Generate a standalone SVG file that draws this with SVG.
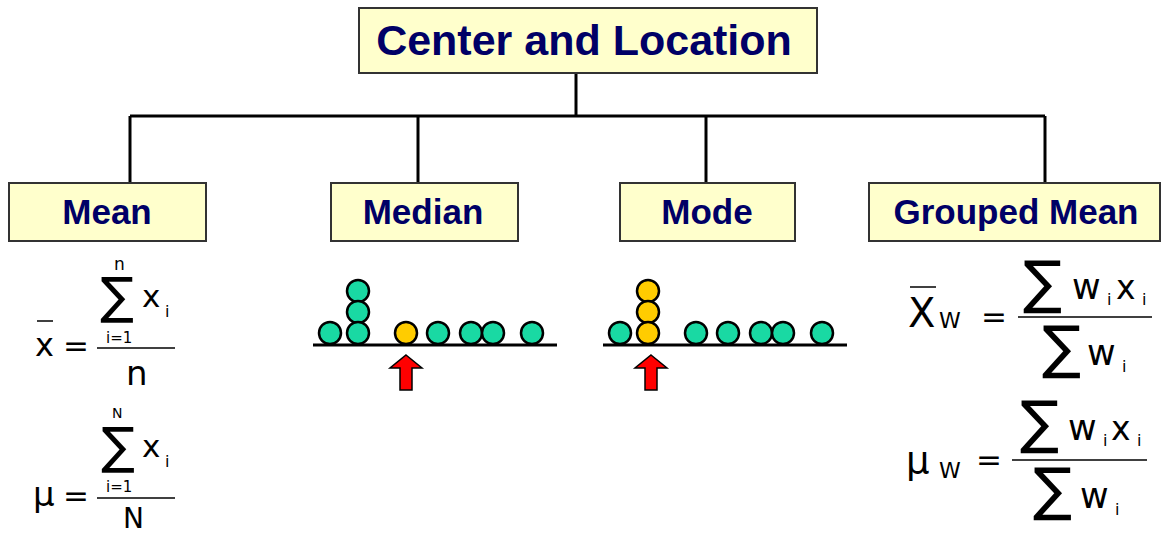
<svg xmlns="http://www.w3.org/2000/svg" width="1162" height="536" viewBox="0 0 1162 536">
  <style>
    .box { fill: #FFFFCC; stroke: #333333; stroke-width: 2; }
    .title { font-family: "Liberation Sans", Arial, sans-serif; font-weight: bold; fill: #000066; text-anchor: middle; }
    .link { fill: none; stroke: #000000; stroke-width: 3; }
    .math { font-family: "DejaVu Sans", Verdana, sans-serif; fill: #000000; }
    .axis { stroke: #000000; stroke-width: 3; }
    .dot-g { fill: #19D9A3; stroke: #000000; stroke-width: 2.5; }
    .dot-y { fill: #FFCC00; stroke: #000000; stroke-width: 2.5; }
    .arrow { fill: #FF0000; stroke: #000000; stroke-width: 1.5; }
    .bar { stroke: #000000; stroke-width: 1.5; }
  </style>

  <!-- tree connectors -->
  <g id="connectors">
    <path class="link" d="M576 73 V116"/>
    <path class="link" d="M130 116 H1045"/>
    <path class="link" d="M130 116 V183"/>
    <path class="link" d="M418 116 V183"/>
    <path class="link" d="M706 116 V183"/>
    <path class="link" d="M1045 116 V183"/>
  </g>

  <!-- root -->
  <g id="node-center">
    <rect class="box" x="359" y="8" width="458" height="65"/>
    <text class="title" x="584" y="55" font-size="43">Center and Location</text>
  </g>

  <!-- Mean -->
  <g id="node-mean">
    <rect class="box" x="9" y="183" width="197" height="58"/>
    <text class="title" x="107" y="224" font-size="35">Mean</text>
    <g class="math">
      <!-- sample mean -->
      <line class="bar" x1="37" y1="321" x2="53" y2="321"/>
      <text x="35" y="356" font-size="32">x</text>
      <text x="63" y="356" font-size="31">=</text>
      <text x="114" y="270" font-size="17">n</text>
      <text x="100" y="313" font-size="50">∑</text>
      <text x="142" y="307" font-size="31">x</text>
      <text x="165" y="317" font-size="16">i</text>
      <text x="106" y="343" font-size="15">i=1</text>
      <line class="bar" x1="97" y1="348" x2="175" y2="348"/>
      <text x="126" y="385" font-size="34">n</text>
      <!-- population mean -->
      <text x="33" y="506" font-size="34">μ</text>
      <text x="63" y="506" font-size="31">=</text>
      <text x="112" y="418" font-size="14">N</text>
      <text x="101" y="463" font-size="50">∑</text>
      <text x="142" y="457" font-size="31">x</text>
      <text x="165" y="467" font-size="16">i</text>
      <text x="106" y="492" font-size="15">i=1</text>
      <line class="bar" x1="97" y1="498" x2="175" y2="498"/>
      <text x="123" y="528" font-size="28">N</text>
    </g>
  </g>

  <!-- Median -->
  <g id="node-median">
    <rect class="box" x="331" y="183" width="187" height="58"/>
    <text class="title" x="423" y="224" font-size="35">Median</text>
    <line class="axis" x1="313" y1="345" x2="557" y2="345"/>
    <circle class="dot-g" cx="330" cy="333" r="11"/>
    <circle class="dot-g" cx="358" cy="291" r="11"/>
    <circle class="dot-g" cx="358" cy="312" r="11"/>
    <circle class="dot-g" cx="358" cy="333" r="11"/>
    <circle class="dot-y" cx="406" cy="333" r="11"/>
    <circle class="dot-g" cx="438" cy="333" r="11"/>
    <circle class="dot-g" cx="471" cy="333" r="11"/>
    <circle class="dot-g" cx="493" cy="333" r="11"/>
    <circle class="dot-g" cx="532" cy="333" r="11"/>
    <polygon class="arrow" points="406,355 422,368 412,368 412,390 400,390 400,368 390,368"/>
  </g>

  <!-- Mode -->
  <g id="node-mode">
    <rect class="box" x="620" y="183" width="175" height="58"/>
    <text class="title" x="707" y="224" font-size="35">Mode</text>
    <line class="axis" x1="603" y1="345" x2="847" y2="345"/>
    <circle class="dot-g" cx="620" cy="333" r="11"/>
    <circle class="dot-y" cx="648" cy="291" r="11"/>
    <circle class="dot-y" cx="648" cy="312" r="11"/>
    <circle class="dot-y" cx="648" cy="333" r="11"/>
    <circle class="dot-g" cx="696" cy="333" r="11"/>
    <circle class="dot-g" cx="728" cy="333" r="11"/>
    <circle class="dot-g" cx="761" cy="333" r="11"/>
    <circle class="dot-g" cx="783" cy="333" r="11"/>
    <circle class="dot-g" cx="822" cy="333" r="11"/>
    <polygon class="arrow" points="651,355 667,368 657,368 657,390 645,390 645,368 635,368"/>
  </g>

  <!-- Grouped Mean -->
  <g id="node-grouped-mean">
    <rect class="box" x="869" y="183" width="291" height="58"/>
    <text class="title" x="1016" y="224" font-size="35">Grouped Mean</text>
    <g class="math">
      <!-- weighted sample mean -->
      <line class="bar" x1="910" y1="287" x2="936" y2="287"/>
      <text x="908" y="327" font-size="40">X</text>
      <text x="939" y="328" font-size="22">W</text>
      <text x="981" y="327" font-size="31">=</text>
      <text x="1023" y="302" font-size="58">∑</text>
      <text x="1072" y="299" font-size="35">w</text>
      <text x="1107" y="305" font-size="16">i</text>
      <text x="1116" y="299" font-size="33">x</text>
      <text x="1142" y="305" font-size="16">i</text>
      <line class="bar" x1="1018" y1="317" x2="1152" y2="317"/>
      <text x="1042" y="367" font-size="58">∑</text>
      <text x="1087" y="365" font-size="35">w</text>
      <text x="1122" y="372" font-size="16">i</text>
      <!-- weighted population mean -->
      <text x="906" y="473" font-size="37">μ</text>
      <text x="939" y="478" font-size="22">W</text>
      <text x="976" y="470" font-size="31">=</text>
      <text x="1020" y="442" font-size="58">∑</text>
      <text x="1068" y="440" font-size="35">w</text>
      <text x="1103" y="446" font-size="16">i</text>
      <text x="1111" y="440" font-size="33">x</text>
      <text x="1137" y="446" font-size="16">i</text>
      <line class="bar" x1="1012" y1="460" x2="1147" y2="460"/>
      <text x="1033" y="509" font-size="58">∑</text>
      <text x="1080" y="508" font-size="35">w</text>
      <text x="1115" y="515" font-size="16">i</text>
    </g>
  </g>
</svg>
